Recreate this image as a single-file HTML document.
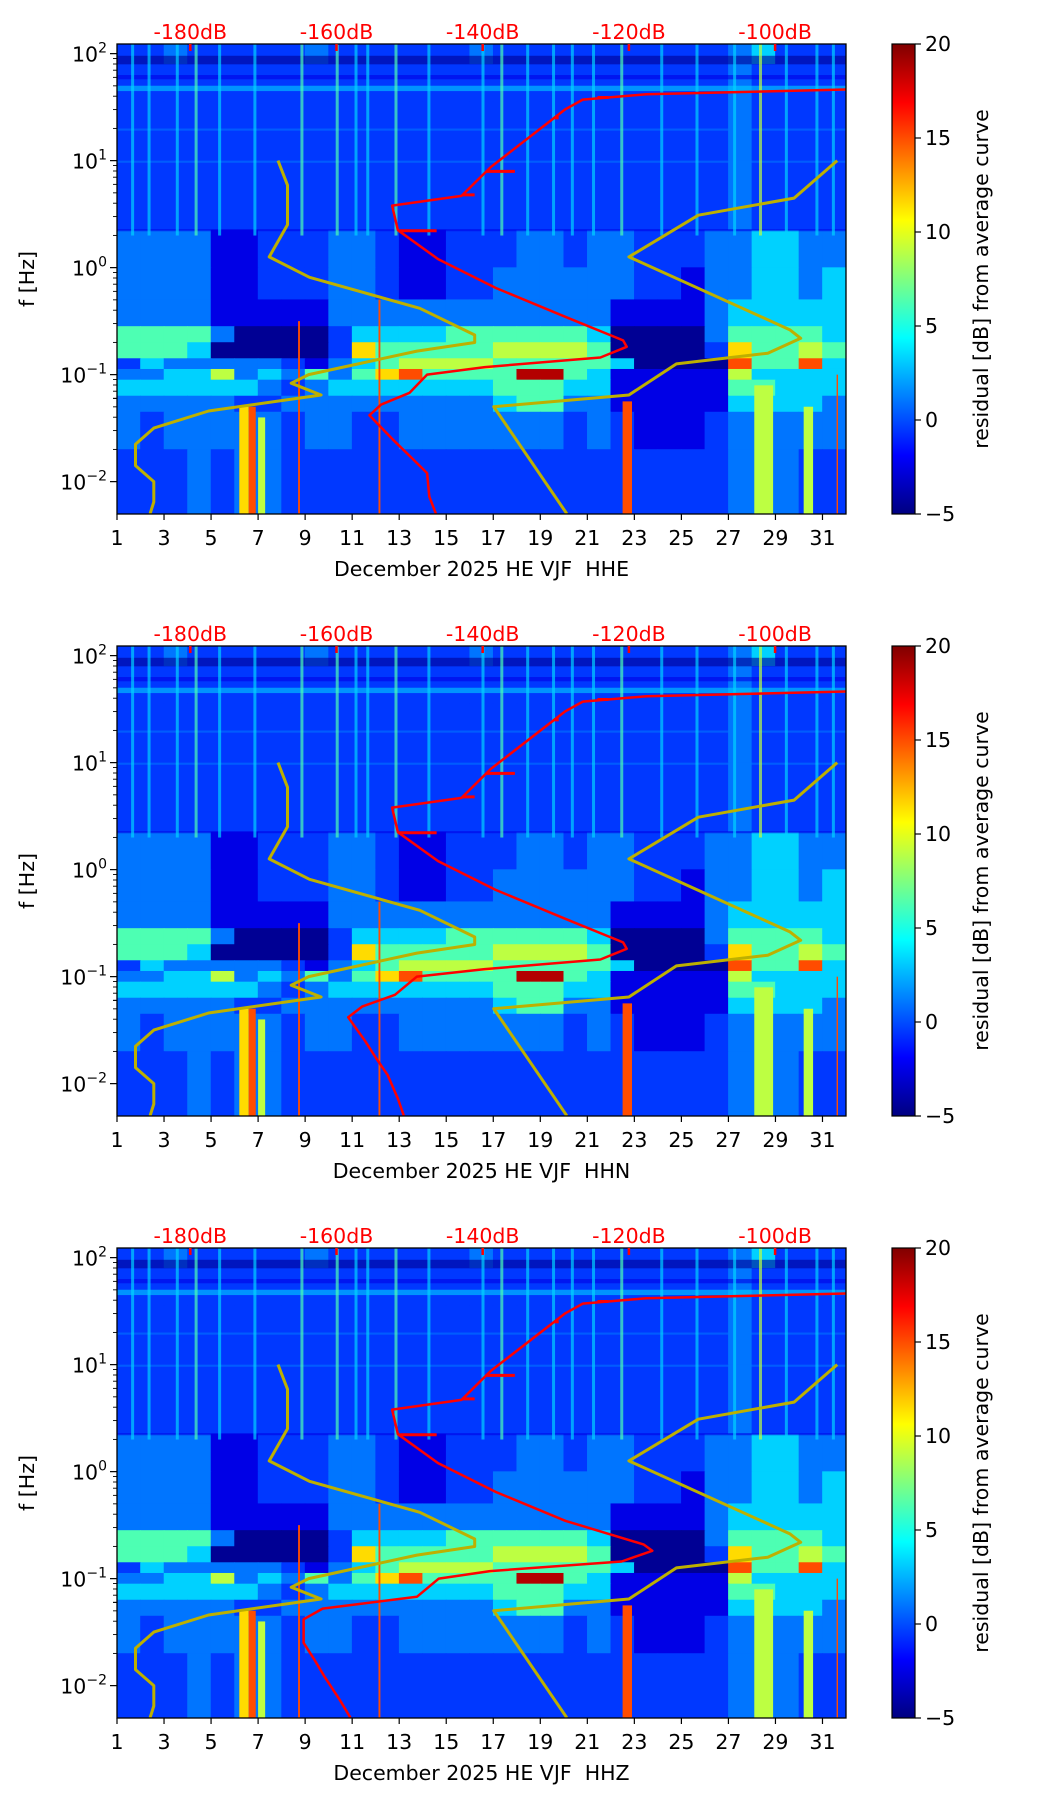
<!DOCTYPE html>
<html><head><meta charset="utf-8"><style>
html,body{margin:0;padding:0;background:#fff;}
svg{display:block;font-family:"DejaVu Sans","Liberation Sans",sans-serif;}
</style></head><body>
<svg id="fig" xmlns="http://www.w3.org/2000/svg" width="1052" height="1806" viewBox="0 0 1052 1806">
<defs>
<linearGradient id="jet" x1="0" y1="1" x2="0" y2="0">
<stop offset="0" stop-color="#000080"/><stop offset="0.125" stop-color="#0000ff"/><stop offset="0.375" stop-color="#00ffff"/><stop offset="0.625" stop-color="#ffff00"/><stop offset="0.875" stop-color="#ff0000"/><stop offset="1" stop-color="#800000"/>
</linearGradient>
</defs>
</svg>
<script>
// ---- data ----
const panelTops = [44, 646, 1248];
const panelNames = ["December 2025 HE VJF  HHE", "December 2025 HE VJF  HHN", "December 2025 HE VJF  HHZ"];
const dayTicks = [1,3,5,7,9,11,13,15,17,19,21,23,25,27,29,31];
const yTickExps = [2,1,0,-1,-2];
const dbTicks = [-180,-160,-140,-120,-100];
const cbTicks = [20,15,10,5,0,-5];
const rowEdges = [2.1,1.9,1.55,1.0,0.35,0.0,-0.3,-0.55,-0.7,-0.85,-0.95,-1.05,-1.2,-1.35,-1.7,-2.31];
const codeLevels = [0.02,0.1,0.18,0.24,0.33,0.45,0.56,0.66,0.8,0.95];
const residualRows = [
"2232222232222223222222222234222",
"2222222222222222222222222232222",
"2222222222222222222222222232222",
"2222222222222222222222222232222",
"3333112223321122233233222334433",
"3333112223321122333333221334434",
"3333111113333333333331111344444",
"5555300002444455555540000355554",
"5554000002755555666650000275565",
"2433333213456666555554000085584",
"3344634353578555599541111164444",
"4444443234444444555441111155444",
"3333322333333333455331111144443",
"3233333233223333333232111233333",
"2223233222222222222222222233322"
];
// vertical bright streaks in high band: [day, code]
const hfStreaks = [[1.6,4],[2.3,4],[3.5,4],[4.3,5],[5.3,4],[6.8,4],[8.8,5],[10.3,5],[11.1,4],[11.6,4],[12.8,5],[14.2,4],[16.5,4],[17.3,5],[18.4,4],[19.5,4],[20.3,4],[21.2,4],[22.4,5],[24.1,4],[25.6,4],[27.2,4],[28.3,6],[29.4,4],[30.7,4],[31.4,4]];
// low-frequency stripes: [dayStart, dayEnd, logfTop, logfBottom, code]
const lfStripes = [[6.2,6.6,-1.3,-2.31,7],[6.6,6.9,-1.3,-2.31,8],[7.0,7.3,-1.4,-2.31,6],[8.7,8.78,-0.5,-2.31,8],[12.12,12.2,-0.3,-2.31,8],[22.5,22.9,-1.25,-2.31,8],[28.1,28.9,-1.1,-2.31,6],[30.2,30.6,-1.3,-2.31,6],[31.6,31.66,-1.0,-2.31,8]];
// horizontal bands: [logfTop, logfBottom, code]
const hBands = [[1.98,1.9,0],[1.7,1.65,4],[1.8,1.76,1],[1.3,1.28,3],[1.0,0.98,3],[0.36,0.34,1]];
// noise models
const nlnmLogf = [1.0,0.77,0.4,0.1,-0.09,-0.38,-0.63,-0.7,-0.78,-1.0,-1.08,-1.19,-1.34,-1.5,-1.65,-1.85,-2.0,-2.19,-2.3];
const nlnmDb = [-168,-166.7,-166.7,-169.2,-163.7,-148.6,-141.1,-141.1,-149,-163.8,-166.2,-162.1,-177.5,-185,-187.5,-187.5,-185,-185,-185.5];
const nhnmLogf = [1.0,0.65,0.49,0.1,-0.58,-0.66,-0.8,-0.9,-1.19,-1.3,-2.3];
const nhnmDb = [-91.5,-97.4,-110.5,-120,-98,-96.5,-101,-113.5,-120,-138.5,-128.5];
// average PSD (red)
const avgLogf = [1.665,1.62,1.57,1.48,0.94,0.67,0.58,0.35,0.08,-0.19,-0.46,-0.68,-0.74,-0.84,-0.93,-1.0,-1.17,-1.28,-1.38,-1.6,-1.76,-1.92,-2.14,-2.3];
const avgDbHHE = [-90,-117.6,-126.3,-128.7,-138.9,-142.9,-152.4,-151.6,-146.1,-138.2,-128.7,-120.8,-120.3,-123.9,-139.7,-147.6,-150,-153.9,-155.5,-152.4,-150,-147.6,-147.3,-146.4];
const avgDbHHN = [-90,-117.6,-126.3,-128.7,-138.9,-142.9,-152.4,-151.6,-146.1,-138.2,-128.7,-120.8,-120.3,-123.9,-139.7,-149,-152,-156.5,-158.4,-156.1,-154.6,-153,-151.6,-150.8];
const avgDbHHZ = [-90,-117.6,-126.3,-128.7,-138.9,-142.9,-152.4,-151.6,-146.1,-138.2,-128.7,-118,-116.8,-121,-139,-146,-149,-161.9,-164.5,-164.5,-163,-161.6,-159.5,-158.1];
const spurLogf = [1.59,1.4,0.9,0.68,0.345];
const spurDb = [-124.3,-129.6,-135.6,-141.1,-146.3];

// ---- drawing ----
const NS = "http://www.w3.org/2000/svg";
const svg = document.getElementById("fig");
const XL = 117, XR = 846, PH = 470, FS = 20.5;
function X(day){ return XL + (day-1)*(XR-XL)/31; }
function Xdb(db){ return 190.3 + (db+180)*7.31; }
function jet(v){
  const c = t => Math.round(255*Math.max(0,Math.min(1,t)));
  return "rgb("+c(1.5-Math.abs(4*v-3))+","+c(1.5-Math.abs(4*v-2))+","+c(1.5-Math.abs(4*v-1))+")";
}
function mk(tag, attrs, parent){
  const e = document.createElementNS(NS, tag);
  for (const k in attrs) e.setAttribute(k, attrs[k]);
  (parent||svg).appendChild(e);
  return e;
}
function interp(xs, ys, x){
  for (let i=0;i<xs.length-1;i++){
    const a=xs[i], b=xs[i+1];
    if ((x<=a && x>=b)||(x>=a && x<=b)){ const t=(x-a)/(b-a); return ys[i]+t*(ys[i+1]-ys[i]); }
  }
  return x > xs[0] ? ys[0] : ys[ys.length-1];
}
const avgSets = [avgDbHHE, avgDbHHN, avgDbHHZ];

panelTops.forEach((top, pi) => {
  const Y = lf => top + (2.09-lf)*107;
  const g = mk("g", {});
  
  
  const clipId = "clip"+pi;
  const cp = mk("clipPath", {id: clipId}, g);
  mk("rect", {x:XL, y:top, width:XR-XL, height:PH}, cp);
  const hm = mk("g", {"clip-path":"url(#"+clipId+")"}, g);
  
  
  residualRows.forEach((row, ri) => {
    const y0 = Y(rowEdges[ri]), y1 = Y(rowEdges[ri+1]);
    for (let d=0; d<31; d++){
      const r = mk("rect", {x:X(d+1)-0.3, y:y0-0.3, width:X(d+2)-X(d+1)+0.6, height:y1-y0+0.6, fill:jet(codeLevels[+row[d]])}, hm);
      
      
    }
  });
  hBands.forEach(b => {
    const r = mk("rect", {x:XL, y:Y(b[0]), width:XR-XL, height:Y(b[1])-Y(b[0]), fill:jet(codeLevels[b[2]]), opacity:0.6}, hm);
    
    
  });
  hfStreaks.forEach(s => {
    const r = mk("rect", {x:X(s[0]), y:top, width:3, height:Y(0.3)-top, fill:jet(codeLevels[s[1]]), opacity:0.7}, hm);
    
    
  });
  lfStripes.forEach(s => {
    const r = mk("rect", {x:X(s[0]), y:Y(s[2]), width:X(s[1])-X(s[0]), height:Y(s[3])-Y(s[2]), fill:jet(codeLevels[s[4]])}, hm);
    
    
  });
  // lines
  const lineG = mk("g", {"clip-path":"url(#"+clipId+")", fill:"none"}, g);
  const poly = (lfs, dbs) => lfs.map((lf,i)=>Xdb(dbs[i]).toFixed(1)+","+Y(lf).toFixed(1)).join(" ");
  const l1 = mk("polyline", {points:poly(nlnmLogf,nlnmDb), stroke:"#bdb000", "stroke-width":3, "stroke-linejoin":"round"}, lineG);
  
  
  const l2 = mk("polyline", {points:poly(nhnmLogf,nhnmDb), stroke:"#bdb000", "stroke-width":3, "stroke-linejoin":"round"}, lineG);
  
  
  const avg = avgSets[pi];
  const l3 = mk("polyline", {points:poly(avgLogf,avg), stroke:"#ff0000", "stroke-width":2.5, "stroke-linejoin":"round"}, lineG);
  
  
  spurLogf.forEach((lf,i) => {
    const s = mk("line", {x1:Xdb(interp(avgLogf,avg,lf)), x2:Xdb(spurDb[i]), y1:Y(lf), y2:Y(lf), stroke:"#ff0000", "stroke-width":3}, lineG);
    
    
  });
  // frame
  const fr = mk("rect", {x:XL, y:top, width:XR-XL, height:PH, fill:"none", stroke:"#000", "stroke-width":1.3}, g);
  
  
  // x ticks
  dayTicks.forEach(d => {
    mk("line", {x1:X(d), x2:X(d), y1:top+PH, y2:top+PH+6, stroke:"#000", "stroke-width":1.2}, g);
    const t = mk("text", {x:X(d), y:top+PH+31, "text-anchor":"middle", "font-size":FS}, g);
    t.textContent = d;
    
    
  });
  const xl = mk("text", {x:(XL+XR)/2, y:top+PH+62, "text-anchor":"middle", "font-size":FS, style:"white-space:pre"}, g);
  xl.textContent = panelNames[pi];
  
  
  // y ticks
  yTickExps.forEach(e => {
    mk("line", {x1:XL-7, x2:XL, y1:Y(e), y2:Y(e), stroke:"#000", "stroke-width":1.2}, g);
    for (let m=2; m<10; m++){
      const lf = e + Math.log10(m);
      if (lf < 2.09) mk("line", {x1:XL-4, x2:XL, y1:Y(lf), y2:Y(lf), stroke:"#000", "stroke-width":0.9}, g);
    }
    const t = mk("text", {x:XL-10, y:Y(e)+8, "text-anchor":"end", "font-size":FS}, g);
    
    
    const a = mk("tspan", {}, t); a.textContent = "10";
    const b = mk("tspan", {dy:-9, "font-size":14}, t); b.textContent = e < 0 ? "\u2212"+(-e) : String(e);
  });
  mk("line", {x1:XL-4, x2:XL, y1:Y(-2+Math.log10(6)), y2:Y(-2+Math.log10(6)), stroke:"#000"}, g);
  const yl = mk("text", {transform:"translate(34,"+(top+PH/2)+") rotate(-90)", "text-anchor":"middle", "font-size":FS}, g);
  yl.textContent = "f [Hz]";
  
  
  // top dB axis
  dbTicks.forEach(db => {
    mk("line", {x1:Xdb(db), x2:Xdb(db), y1:top, y2:top+7, stroke:"#ff0000", "stroke-width":2.5}, g);
    const t = mk("text", {x:Xdb(db), y:top-5, "text-anchor":"middle", "font-size":FS, fill:"#ff0000"}, g);
    t.textContent = db + "dB";
    
    
  });
  // colorbar
  const cb = mk("rect", {x:892, y:top, width:23, height:PH, fill:"url(#jet)", stroke:"#000", "stroke-width":1.2}, g);
  
  
  cbTicks.forEach(v => {
    const y = top + (20-v)/25*PH;
    mk("line", {x1:915, x2:921, y1:y, y2:y, stroke:"#000", "stroke-width":1.2}, g);
    const t = mk("text", {x:925, y:y+7, "font-size":FS}, g);
    t.textContent = v < 0 ? "\u2212"+(-v) : String(v);
    
    
  });
  const cl = mk("text", {transform:"translate(988,"+(top+PH/2)+") rotate(-90)", "text-anchor":"middle", "font-size":FS}, g);
  cl.textContent = "residual [dB] from average curve";
  
  
});
</script>
</body></html>
